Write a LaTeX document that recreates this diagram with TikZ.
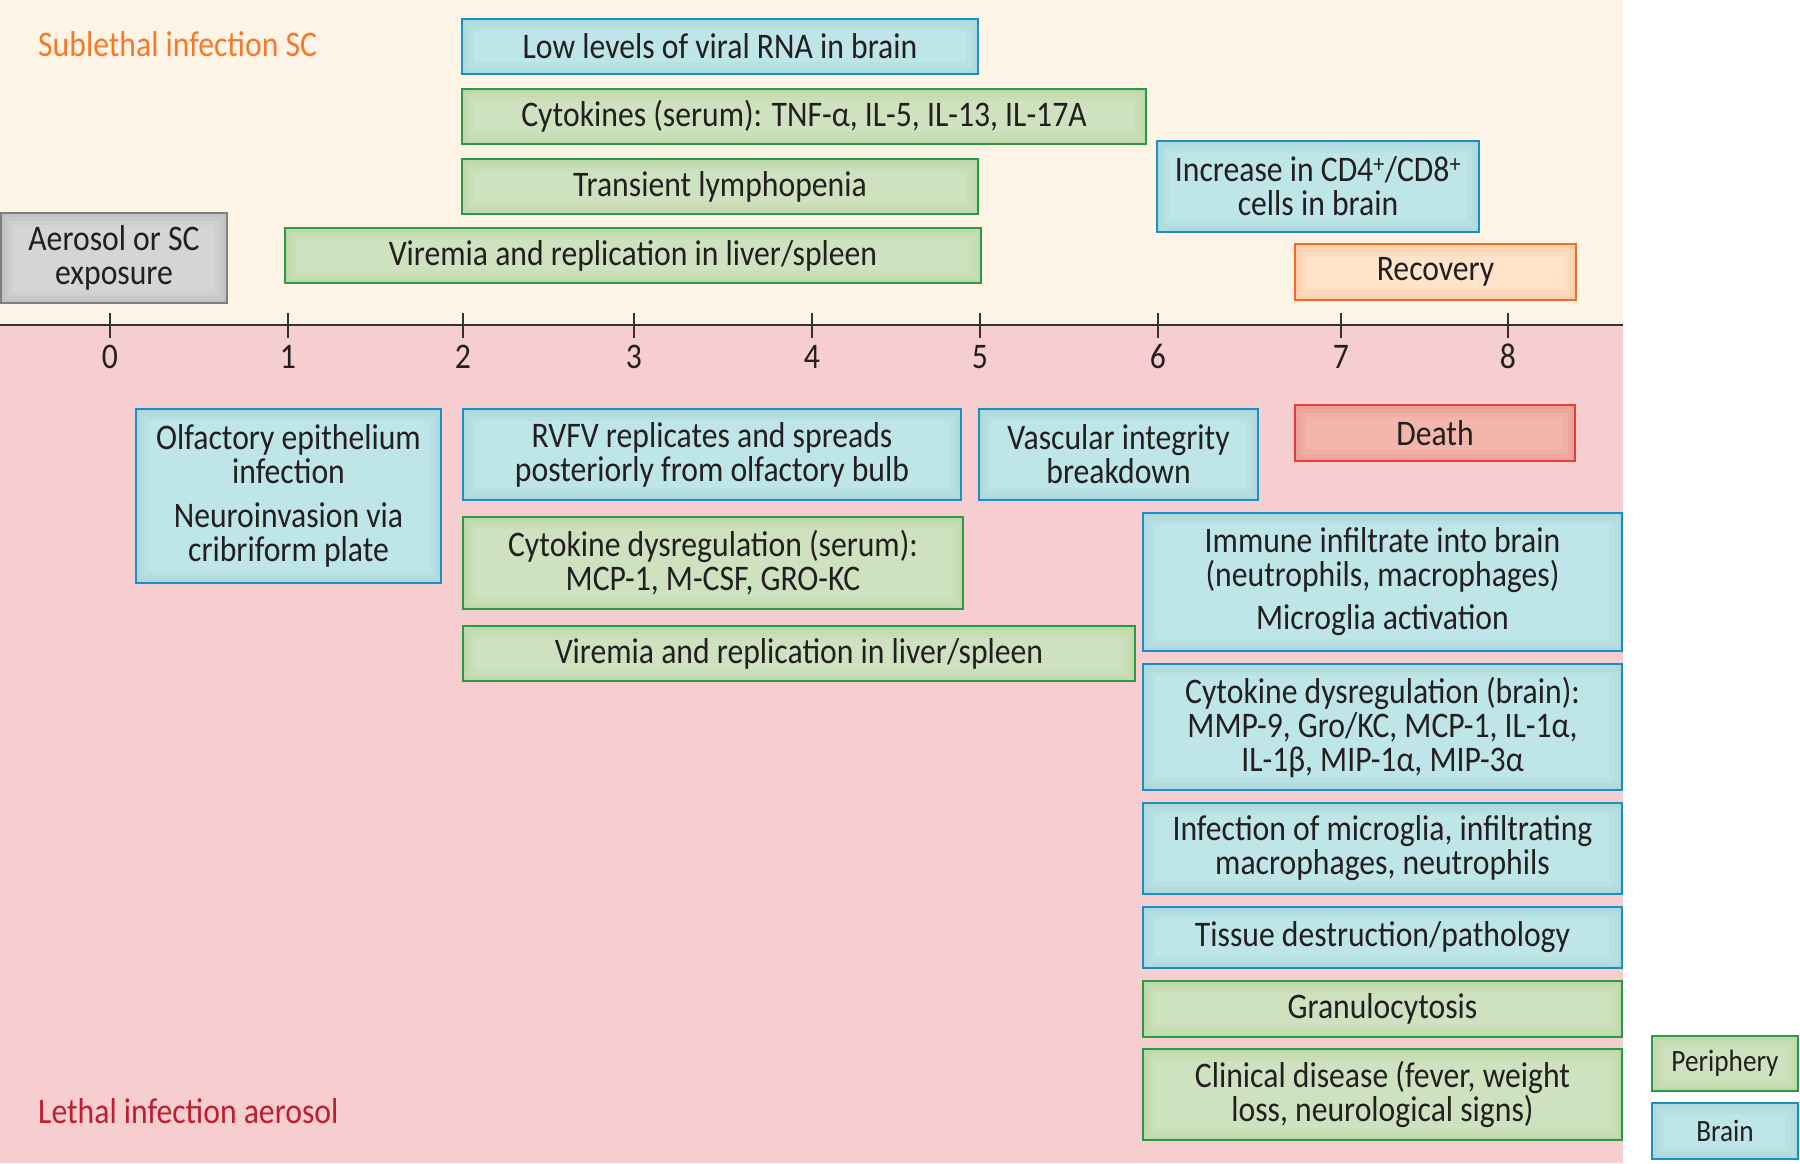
\documentclass[tikz,border=0pt]{standalone}
\usepackage{fontspec}
\setmainfont{Carlito}[FakeStretch=0.88]
\usetikzlibrary{positioning}
\definecolor{cream}{HTML}{FEF4E5}
\definecolor{pinkbg}{HTML}{F6CECF}
\definecolor{txt}{HTML}{231F20}
\definecolor{fBlue}{HTML}{BEE5E7}
\definecolor{eBlue}{HTML}{8ECAD3}
\definecolor{bdBlue}{HTML}{1B8EC2}
\definecolor{fGreen}{HTML}{CFE2BF}
\definecolor{eGreen}{HTML}{A6CB8B}
\definecolor{bdGreen}{HTML}{2A9A47}
\definecolor{fGray}{HTML}{D4D5D7}
\definecolor{eGray}{HTML}{A5A6A8}
\definecolor{bdGray}{HTML}{7F7F7F}
\definecolor{fOrange}{HTML}{FFE4CA}
\definecolor{eOrange}{HTML}{FDB07A}
\definecolor{bdOrange}{HTML}{F26B2A}
\definecolor{fRed}{HTML}{F2B6AC}
\definecolor{eRed}{HTML}{E68070}
\definecolor{bdRed}{HTML}{E0403A}
\definecolor{orangeText}{HTML}{F47A2A}
\definecolor{redText}{HTML}{BE1E2D}
\definecolor{axisCol}{HTML}{333333}
\newcommand\boxfont{\fontsize{36}{34}\selectfont}
\tikzset{
  glow/.style={path picture={
    \foreach \w/\o in {24/0.12,15/0.15,7/0.2}{
      \draw[line width=\w pt, draw=#1, opacity=\o]
        (path picture bounding box.south west) rectangle (path picture bounding box.north east);}
  }},
  box/.style={draw, line width=2.4pt, inner sep=0pt, align=center, text=txt, font=\boxfont},
  bluebox/.style={box, draw=bdBlue, fill=fBlue, glow=eBlue},
  greenbox/.style={box, draw=bdGreen, fill=fGreen, glow=eGreen},
  graybox/.style={box, draw=bdGray, fill=fGray, glow=eGray},
  orangebox/.style={box, draw=bdOrange, fill=fOrange, glow=eOrange},
  redbox/.style={box, draw=bdRed, fill=fRed, glow=eRed},
  axislabel/.style={anchor=base, text=txt, font=\boxfont, inner sep=0pt},
  ticklines/.style={draw=axisCol, line width=1.6pt},
  legendfont/.style={font=\fontsize{31}{32}\selectfont}
}
\begin{document}
\begin{tikzpicture}[x=1pt, y=-1pt]
\useasboundingbox (0,0) rectangle (1800,1163);
% backgrounds
\fill[cream] (0,0) rectangle (1623,325);
\fill[pinkbg] (0,325) rectangle (1623,1163);
% axis
\draw[draw=axisCol, line width=2pt] (0,325) -- (1623,325);
\foreach \x/\n in {110/0,288/1,463/2,634/3,812/4,980/5,1158/6,1341/7,1508/8}{
  \draw[ticklines] (\x,313) -- (\x,338);
  \node[axislabel] (n\n) at (\x,368) {\n};
}
% section titles
\node[anchor=base west, inner sep=0pt, text=orangeText, font=\boxfont] (sub) at (38,56) {Sublethal infection SC};
\node[anchor=base west, inner sep=0pt, text=redText, font=\boxfont] (leth) at (38,1123) {Lethal infection aerosol};
% top boxes
\node[graybox, minimum width=226, minimum height=90] (aer) at (114,258) {Aerosol or SC\\exposure};
\node[bluebox, minimum width=516, minimum height=55] (low) at (720,46.5) {Low levels of viral RNA in brain};
\node[greenbox, minimum width=684, minimum height=55] (cyt) at (804,116.5) {Cytokines (serum): TNF-α, IL-5, IL-13, IL-17A};
\node[greenbox, minimum width=516, minimum height=55] (trans) at (720,186.5) {Transient lymphopenia};
\node[greenbox, minimum width=696, minimum height=55] (vira) at (633,255.5) {Viremia and replication in liver/spleen};
\node[bluebox, minimum width=322, minimum height=91] (cd) at (1318,186.5) {Increase in CD4\textsuperscript{+}/CD8\textsuperscript{+}\\cells in brain};
\node[orangebox, minimum width=281, minimum height=56] (rec) at (1435.5,272) {Recovery};
% bottom boxes
\node[bluebox, minimum width=305, minimum height=174] (olf) at (288.5,496) {Olfactory epithelium\\infection\\[10pt]Neuroinvasion via\\cribriform plate};
\node[bluebox, minimum width=498, minimum height=91] (rvfv) at (712,454.5) {RVFV replicates and spreads\\posteriorly from olfactory bulb};
\node[greenbox, minimum width=500, minimum height=92] (cdser) at (713,563) {Cytokine dysregulation (serum):\\MCP-1, M-CSF, GRO-KC};
\node[greenbox, minimum width=672, minimum height=55] (virb) at (799,653.5) {Viremia and replication in liver/spleen};
\node[bluebox, minimum width=279, minimum height=91] (vasc) at (1118.5,454.5) {Vascular integrity\\breakdown};
\node[redbox, minimum width=280, minimum height=56] (death) at (1435,433) {Death};
\node[bluebox, minimum width=479, minimum height=138] (imm) at (1382.5,582) {Immune infiltrate into brain\\(neutrophils, macrophages)\\[9pt]Microglia activation};
\node[bluebox, minimum width=479, minimum height=126] (cdbr) at (1382.5,727) {Cytokine dysregulation (brain):\\MMP-9, Gro/KC, MCP-1, IL-1α,\\IL-1β, MIP-1α, MIP-3α};
\node[bluebox, minimum width=479, minimum height=91] (inf) at (1382.5,848.5) {Infection of microglia, infiltrating\\macrophages, neutrophils};
\node[bluebox, minimum width=479, minimum height=61] (tis) at (1382.5,937.5) {Tissue destruction/pathology};
\node[greenbox, minimum width=479, minimum height=56] (gran) at (1382.5,1009) {Granulocytosis};
\node[greenbox, minimum width=479, minimum height=91] (clin) at (1382.5,1094.5) {Clinical disease (fever, weight\\loss, neurological signs)};
% legend
\node[greenbox, legendfont, minimum width=146, minimum height=55] (per) at (1725,1063.5) {Periphery};
\node[bluebox, legendfont, minimum width=146, minimum height=56] (brn) at (1725,1131) {Brain};
\end{tikzpicture}
\end{document}
